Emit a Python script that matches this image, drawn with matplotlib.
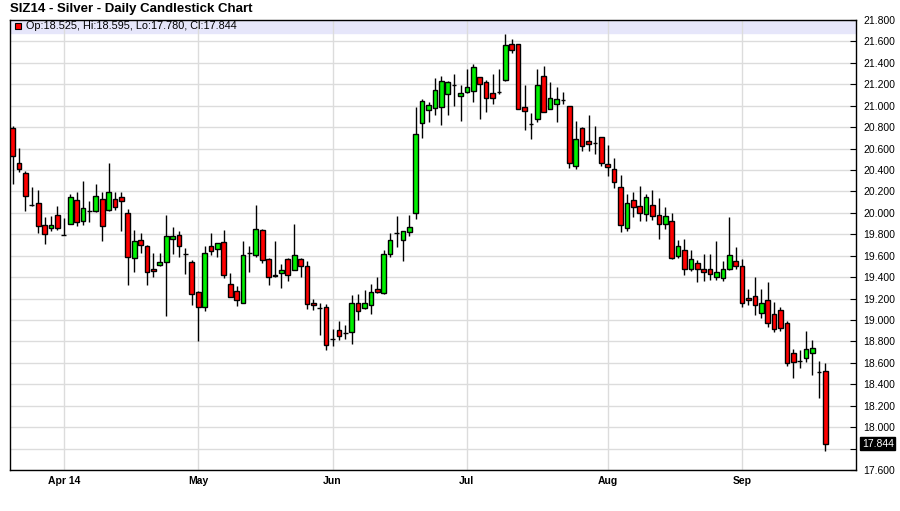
import numpy as np
import pandas as pd
import matplotlib
matplotlib.use("Agg")
import matplotlib.pyplot as plt

# trading days Mar 20 - Sep 19 2014 (exchange holidays skipped)
holidays = ["2014-04-18", "2014-05-26", "2014-07-04", "2014-09-01"]
dates = pd.bdate_range("2014-03-20", "2014-09-19", freq="C", holidays=holidays)

opens = [20.79, 20.47, 20.37, 20.07, 20.09, 19.89, 19.86, 19.98, 19.79, 19.90,
         20.12, 19.92, 20.02, 20.02, 20.13, 20.03, 20.13, 20.15, 20.00, 19.58,
         19.75, 19.69, 19.48, 19.51, 19.54, 19.76, 19.79, 19.62, 19.54, 19.26,
         19.12, 19.69, 19.66, 19.73, 19.34, 19.27, 19.16, 19.63, 19.61, 19.84,
         19.57, 19.41, 19.44, 19.57, 19.47, 19.57, 19.50, 19.16, 19.11, 19.12,
         18.82, 18.91, 18.88, 18.89, 19.16, 19.11, 19.14, 19.29, 19.25, 19.62,
         19.81, 19.75, 19.82, 20.00, 20.84, 20.96, 20.98, 20.99, 21.11, 21.19,
         21.09, 21.13, 21.14, 21.27, 21.22, 21.12, 21.13, 21.24, 21.58, 21.58,
         20.99, 20.83, 20.88, 21.28, 20.97, 21.02, 21.05, 21.00, 20.44, 20.79,
         20.67, 20.65, 20.71, 20.46, 20.41, 20.24, 19.86, 20.12, 20.06, 19.99,
         20.07, 19.98, 19.90, 19.92, 19.60, 19.65, 19.48, 19.53, 19.48, 19.48,
         19.40, 19.39, 19.48, 19.55, 19.50, 19.21, 19.22, 19.07, 19.19, 19.06,
         19.09, 18.97, 18.69, 18.62, 18.65, 18.69, 18.51, 18.525]
highs = [20.81, 20.61, 20.39, 20.24, 20.21, 19.96, 19.97, 20.06, 19.95, 20.18,
         20.19, 20.30, 20.11, 20.27, 20.19, 20.47, 20.19, 20.19, 20.04, 19.84,
         19.81, 19.70, 19.63, 19.63, 19.98, 19.87, 19.83, 19.67, 19.56, 19.27,
         19.69, 19.81, 19.72, 19.84, 19.44, 19.32, 19.74, 19.69, 20.07, 19.85,
         19.58, 19.74, 19.52, 19.58, 19.90, 19.58, 19.55, 19.20, 19.16, 19.15,
         18.92, 18.99, 18.95, 19.23, 19.24, 19.28, 19.34, 19.40, 19.65, 19.81,
         19.97, 19.83, 19.98, 20.99, 21.06, 21.03, 21.26, 21.28, 21.23, 21.30,
         21.19, 21.34, 21.39, 21.27, 21.24, 21.30, 21.34, 21.67, 21.62, 21.58,
         21.19, 20.93, 21.34, 21.37, 21.22, 21.17, 21.13, 21.00, 20.86, 20.80,
         20.91, 20.81, 20.71, 20.63, 20.51, 20.35, 20.18, 20.19, 20.25, 20.18,
         20.21, 20.14, 20.05, 20.00, 19.75, 19.76, 19.65, 19.56, 19.62, 19.62,
         19.74, 19.55, 19.96, 19.68, 19.57, 19.29, 19.40, 19.29, 19.35, 19.17,
         19.12, 18.99, 18.73, 18.72, 18.90, 18.81, 18.62, 18.595]
lows = [20.27, 20.38, 20.02, 20.06, 19.81, 19.71, 19.83, 19.84, 19.79, 19.90,
        19.88, 19.89, 19.91, 20.01, 19.74, 20.02, 20.03, 19.83, 19.33, 19.45,
        19.63, 19.33, 19.40, 19.50, 19.04, 19.62, 19.59, 19.43, 19.14, 18.80,
        19.08, 19.61, 19.59, 19.39, 19.21, 19.13, 19.16, 19.45, 19.59, 19.53,
        19.33, 19.40, 19.30, 19.36, 19.47, 19.40, 19.10, 19.09, 18.86, 18.72,
        18.76, 18.81, 18.82, 18.78, 19.00, 19.10, 19.06, 19.25, 19.24, 19.59,
        19.68, 19.55, 19.78, 19.94, 20.70, 20.85, 20.91, 20.82, 20.91, 21.00,
        20.86, 21.12, 21.03, 20.88, 20.94, 21.02, 21.11, 21.23, 21.49, 20.97,
        20.77, 20.69, 20.85, 20.94, 20.97, 20.85, 21.02, 20.42, 20.41, 20.58,
        20.58, 20.55, 20.44, 20.34, 20.23, 19.82, 19.83, 19.96, 19.92, 19.92,
        19.93, 19.76, 19.85, 19.57, 19.58, 19.42, 19.46, 19.35, 19.36, 19.37,
        19.37, 19.36, 19.47, 19.48, 19.12, 19.14, 19.05, 19.02, 18.93, 18.89,
        18.90, 18.57, 18.46, 18.55, 18.61, 18.49, 18.27, 17.780]
closes = [20.53, 20.41, 20.16, 20.07, 19.88, 19.80, 19.89, 19.86, 19.79, 20.15,
          19.91, 20.05, 20.02, 20.16, 19.88, 20.19, 20.05, 20.11, 19.59, 19.74,
          19.70, 19.45, 19.46, 19.54, 19.78, 19.78, 19.69, 19.62, 19.24, 19.12,
          19.63, 19.64, 19.72, 19.42, 19.21, 19.19, 19.61, 19.63, 19.85, 19.56,
          19.40, 19.42, 19.47, 19.42, 19.61, 19.50, 19.15, 19.14, 19.11, 18.77,
          18.82, 18.85, 18.88, 19.16, 19.08, 19.16, 19.26, 19.26, 19.62, 19.75,
          19.81, 19.83, 19.87, 20.74, 21.04, 21.01, 21.15, 21.23, 21.22, 21.19,
          21.12, 21.17, 21.36, 21.20, 21.07, 21.07, 21.13, 21.57, 21.52, 20.97,
          20.95, 20.83, 21.19, 20.94, 21.07, 21.06, 21.05, 20.47, 20.69, 20.62,
          20.64, 20.65, 20.47, 20.43, 20.29, 19.89, 20.09, 20.05, 20.00, 20.15,
          19.97, 19.90, 19.97, 19.58, 19.69, 19.48, 19.57, 19.48, 19.45, 19.43,
          19.45, 19.48, 19.61, 19.50, 19.16, 19.19, 19.14, 19.16, 18.97, 18.92,
          18.93, 18.60, 18.61, 18.62, 18.73, 18.74, 18.51, 17.844]

month_labels = ["Apr 14", "May", "Jun", "Jul", "Aug", "Sep"]
price_ticks = np.round(np.arange(17.6, 21.81, 0.2), 1)

o = np.array(opens)
h = np.array(highs)
l = np.array(lows)
c = np.array(closes)
x = np.arange(len(dates))

fig = plt.figure(figsize=(9, 5.11), dpi=100)
ax = fig.add_axes([10 / 900, 41 / 511, 846 / 900, 450 / 511])

ax.set_xlim(-0.4, 131.8)
ax.set_ylim(17.6, 21.8)

# header band with the last bar's values
ax.axhspan(21.68, 21.8, color="#e6e6fa", zorder=1)

up = c > o
colors = np.where(up, "#00f000", "#ff0000")
ax.vlines(x, l, h, color="black", linewidth=1, zorder=2)
ax.bar(x, np.abs(c - o), width=0.74, bottom=np.minimum(o, c), color=colors,
       edgecolor="black", linewidth=1, zorder=3)

# month gridlines
month_pos = [i for i in range(1, len(dates)) if dates[i].month != dates[i - 1].month]
ax.set_xticks(month_pos)
ax.set_xticklabels(month_labels, fontweight="bold", fontsize=7.5,
                   family=["Liberation Sans Narrow", "Liberation Sans"])
ax.tick_params(axis="x", length=0, pad=4)

ax.yaxis.tick_right()
ax.set_yticks(price_ticks)
ax.set_yticklabels(["" if abs(v - 17.8) < 0.01 else "%.3f" % v for v in price_ticks],
                   fontsize=7.5, family="Liberation Sans")
ax.tick_params(axis="y", direction="in", length=4, pad=5, colors="black")

ax.grid(True, color="#dcdcdc", linewidth=1)
for s in ax.spines.values():
    s.set_color("black")
    s.set_linewidth(1)

# last price marker on the axis
ax.text(1.007, c[-1], "%.3f" % c[-1], transform=ax.get_yaxis_transform(),
        ha="left", va="center", color="white", fontsize=7.5, family="Liberation Sans",
        bbox=dict(boxstyle="square,pad=0.15", facecolor="black", edgecolor="black"),
        clip_on=False)

ax.plot([0.0095], [21.74], marker="s", markersize=4.5, color="#ff0000",
        markeredgecolor="black", markeredgewidth=0.8,
        transform=ax.get_yaxis_transform(), clip_on=False, zorder=4)
ax.text(0.019, 21.74, "Op:%.3f, Hi:%.3f, Lo:%.3f, Cl:%.3f" % (o[-1], h[-1], l[-1], c[-1]),
        transform=ax.get_yaxis_transform(), ha="left", va="center",
        fontsize=7.8, family="Liberation Sans", zorder=4)

fig.text(10 / 900, 1 - 9 / 511, "SIZ14 - Silver - Daily Candlestick Chart",
         ha="left", va="center", fontsize=9.5, fontweight="bold", family="Liberation Sans")

fig.savefig("out.png", dpi=100, facecolor="white")
